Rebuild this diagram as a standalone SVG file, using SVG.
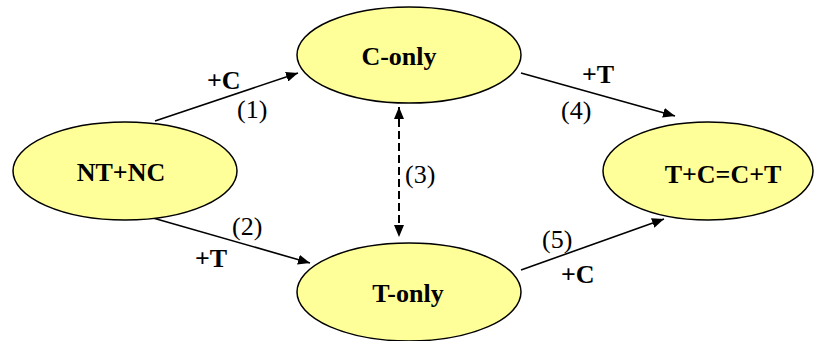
<svg xmlns="http://www.w3.org/2000/svg" width="814" height="341" viewBox="0 0 814 341">
<defs>
<marker id="ah" viewBox="0 0 12 10" refX="12" refY="5" markerWidth="12" markerHeight="10" markerUnits="userSpaceOnUse" orient="auto-start-reverse">
<path d="M0,0 L12,5 L0,10 z" fill="#000"/>
</marker>
</defs>
<rect width="814" height="341" fill="#fff"/>
<g id="connectors" stroke="#000" stroke-width="1.6" fill="none">
<line marker-end="url(#ah)" x1="155" y1="121" x2="298" y2="73"/>
<line marker-end="url(#ah)" x1="521" y1="73" x2="675" y2="116"/>
<line marker-end="url(#ah)" x1="153" y1="218" x2="310" y2="263"/>
<line marker-end="url(#ah)" x1="521" y1="270" x2="664" y2="219"/>
<line marker-start="url(#ah)" marker-end="url(#ah)" stroke-width="2" stroke-dasharray="8,4" x1="399" y1="107" x2="399" y2="237"/>
</g>
<g id="edge-labels" font-family="Times New Roman" font-size="26" fill="#000">
<text font-weight="bold" x="207" y="89">+C</text>
<text x="237" y="118">(1)</text>
<text font-weight="bold" x="582" y="83">+T</text>
<text x="561" y="119">(4)</text>
<text x="232" y="235">(2)</text>
<text font-weight="bold" x="195" y="267">+T</text>
<text x="405" y="183">(3)</text>
<text x="542" y="248">(5)</text>
<text font-weight="bold" x="561" y="283">+C</text>
</g>
<g id="node-c-only">
<ellipse cx="409" cy="55" rx="112" ry="48" fill="#FFFF99" stroke="#000" stroke-width="1.5"/>
<text font-family="Times New Roman" font-size="26" font-weight="bold" text-anchor="middle" x="399" y="65">C-only</text>
</g>
<g id="node-nt-nc">
<ellipse cx="125" cy="171" rx="112" ry="49" fill="#FFFF99" stroke="#000" stroke-width="1.5"/>
<text font-family="Times New Roman" font-size="26" font-weight="bold" text-anchor="middle" x="121" y="181">NT+NC</text>
</g>
<g id="node-t-c">
<ellipse cx="708" cy="171" rx="105" ry="49" fill="#FFFF99" stroke="#000" stroke-width="1.5"/>
<text font-family="Times New Roman" font-size="26" font-weight="bold" text-anchor="middle" x="723" y="183">T+C=C+T</text>
</g>
<g id="node-t-only">
<ellipse cx="409" cy="292" rx="112" ry="49" fill="#FFFF99" stroke="#000" stroke-width="1.5"/>
<text font-family="Times New Roman" font-size="26" font-weight="bold" text-anchor="middle" x="408" y="302">T-only</text>
</g>
</svg>
